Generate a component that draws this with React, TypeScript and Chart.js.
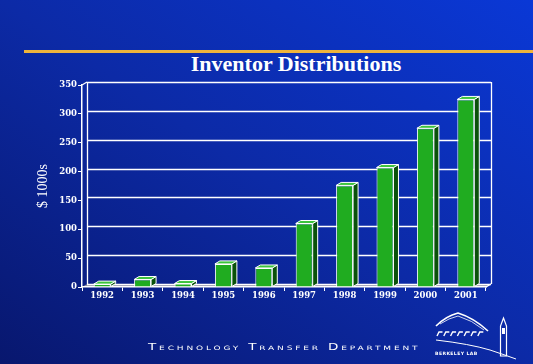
import React, { useEffect, useRef } from "react";
import { Chart, registerables } from "chart.js";

Chart.register(...registerables);

// ---- data ----
const years = ["1992", "1993", "1994", "1995", "1996", "1997", "1998", "1999", "2000", "2001"];
const distributions = [5, 13, 6, 40, 33, 110, 176, 207, 275, 325];
const yMin = 0;
const yMax = 350;
const yStep = 50;
const chartTitle = "Inventor Distributions";
const yAxisTitle = "$ 1000s";
const footerText = "Technology Transfer Department";
const logoText = "BERKELEY LAB";

// 3D depth offset of the back wall relative to the front plane
const DX = 5;
const DY = -3;

const depthPlugin = {
  id: "depth3d",
  beforeDraw(chart: any) {
    const { ctx, chartArea: a, scales } = chart;
    const y = scales.y;
    const y0 = y.getPixelForValue(0);
    ctx.save();
    // floor
    ctx.fillStyle = "#8f8fa3";
    ctx.beginPath();
    ctx.moveTo(a.left, y0);
    ctx.lineTo(a.right, y0);
    ctx.lineTo(a.right + DX, y0 + DY);
    ctx.lineTo(a.left + DX, y0 + DY);
    ctx.closePath();
    ctx.fill();
    // back grid lines
    ctx.strokeStyle = "#ffffff";
    ctx.lineWidth = 1.3;
    y.ticks.forEach((t: any) => {
      const py = Math.round(y.getPixelForValue(t.value) + DY) + 0.5;
      ctx.beginPath();
      ctx.moveTo(a.left + DX, py);
      ctx.lineTo(a.right + DX, py);
      ctx.stroke();
    });
    // back wall edges
    const top = y.getPixelForValue(yMax) + DY;
    ctx.beginPath();
    ctx.moveTo(a.left + DX + 0.5, top);
    ctx.lineTo(a.left + DX + 0.5, y0 + DY);
    ctx.moveTo(a.right + DX + 0.5, top);
    ctx.lineTo(a.right + DX + 0.5, y0 + DY);
    // connectors
    ctx.moveTo(a.left, y.getPixelForValue(yMax));
    ctx.lineTo(a.left + DX, top);
    ctx.moveTo(a.right, y0);
    ctx.lineTo(a.right + DX, y0 + DY);
    ctx.stroke();
    ctx.restore();
  },
  afterDatasetsDraw(chart: any) {
    const { ctx } = chart;
    const meta = chart.getDatasetMeta(0);
    ctx.save();
    ctx.lineWidth = 1;
    ctx.strokeStyle = "#ffffff";
    meta.data.forEach((bar: any) => {
      const { x, y, base, width } = bar.getProps(["x", "y", "base", "width"], true);
      const l = x - width / 2;
      const r = x + width / 2;
      // side face
      ctx.fillStyle = "#0a520a";
      ctx.beginPath();
      ctx.moveTo(r, y);
      ctx.lineTo(r + DX, y + DY);
      ctx.lineTo(r + DX, base + DY);
      ctx.lineTo(r, base);
      ctx.closePath();
      ctx.fill();
      ctx.stroke();
      // top face
      ctx.fillStyle = "#3cc43c";
      ctx.beginPath();
      ctx.moveTo(l, y);
      ctx.lineTo(r, y);
      ctx.lineTo(r + DX, y + DY);
      ctx.lineTo(l + DX, y + DY);
      ctx.closePath();
      ctx.fill();
      ctx.stroke();
    });
    ctx.restore();
  },
};

function Logo() {
  return (
    <svg
      width={100}
      height={64}
      viewBox="420 300 100 64"
      style={{ position: "absolute", left: 420, top: 300 }}
    >
      <path d="M436 326 Q446 316 458 313 Q474 318 488 331" stroke="#fff" strokeWidth={1.6} fill="none" />
      <path d="M440 324 Q449 318 458 316 Q472 320 484 330" stroke="#fff" strokeWidth={0.8} fill="none" />
      {[0, 1, 2, 3, 4, 5, 6].map((i) => (
        <path
          key={i}
          d={`M${437 + i * 6.8} 336 L${439 + i * 6.8} 332 L${442.5 + i * 6.8} 332`}
          stroke="#fff"
          strokeWidth={1.4}
          fill="none"
        />
      ))}
      <path d="M436 340 Q470 344 490 350 Q505 355 516 359" stroke="#fff" strokeWidth={1} fill="none" />
      <path d="M503.5 318 L506.5 326 L506.5 356 L500.5 356 L500.5 326 Z" fill="none" stroke="#fff" strokeWidth={1.2} />
      <rect x={502} y={328} width={3} height={6} fill="#fff" />
      <text x={435} y={355} fill="#fff" fontSize={4.6} fontWeight="bold" fontFamily="DejaVu Sans" letterSpacing={0.4}>
        {logoText}
      </text>
    </svg>
  );
}

export default function App() {
  const canvasRef = useRef<HTMLCanvasElement | null>(null);

  useEffect(() => {
    const canvas = canvasRef.current;
    if (!canvas) return;
    const tickFont = { family: "'DejaVu Serif', serif", size: 8.5, weight: "bold" as const };
    const chart = new Chart(canvas, {
      type: "bar",
      data: {
        labels: years,
        datasets: [
          {
            data: distributions,
            backgroundColor: "#20ac20",
            borderColor: "#ffffff",
            borderWidth: 1,
            barPercentage: 0.42,
            categoryPercentage: 1,
          },
        ],
      },
      options: {
        animation: false,
        responsive: false,
        devicePixelRatio: 1,
        layout: { padding: { left: 0, top: 85, right: 47, bottom: 0 } },
        plugins: {
          legend: { display: false },
          tooltip: { enabled: false },
          title: { display: false },
        },
        scales: {
          x: {
            offset: true,
            grid: {
              offset: true,
              drawOnChartArea: false,
              color: "#ffffff",
              tickColor: "#ffffff",
              tickLength: 4,
            },
            border: { display: true, color: "#ffffff", width: 1.5 },
            ticks: { color: "#ffffff", font: tickFont, padding: 0, maxRotation: 0 },
            afterFit: (scale: any) => {
              scale.height = 77;
            },
          },
          y: {
            min: yMin,
            max: yMax,
            ticks: { stepSize: yStep, color: "#ffffff", font: tickFont, padding: 1 },
            grid: {
              drawOnChartArea: false,
              color: "#ffffff",
              tickColor: "#ffffff",
              tickLength: 4,
            },
            border: { display: true, color: "#ffffff", width: 1.5 },
            title: {
              display: true,
              text: yAxisTitle,
              color: "#ffffff",
              font: { family: "'Liberation Serif', serif", size: 14 },
              padding: { top: 35, bottom: 0 },
            },
            afterFit: (scale: any) => {
              scale.width = 82;
            },
          },
        },
      },
      plugins: [depthPlugin],
    });
    return () => chart.destroy();
  }, []);

  return (
    <div
      style={{
        position: "fixed",
        left: 0,
        top: 0,
        width: 533,
        height: 364,
        overflow: "hidden",
        background: "linear-gradient(to top right, #08176e 0%, #0c2aa6 50%, #0a38d6 100%)",
      }}
    >
      <div style={{ position: "absolute", left: 24, top: 50, width: 509, height: 3, background: "#eeb43c" }} />
      <div
        style={{
          position: "absolute",
          left: 146,
          top: 52,
          width: 300,
          textAlign: "center",
          color: "#ffffff",
          fontFamily: "'Liberation Serif', serif",
          fontWeight: "bold",
          fontSize: 22,
          lineHeight: "24px",
          whiteSpace: "nowrap",
        }}
      >
        {chartTitle}
      </div>
      <canvas ref={canvasRef} width={533} height={364} style={{ position: "absolute", left: 0, top: 0 }} />
      <div
        style={{
          position: "absolute",
          left: 148,
          top: 342,
          color: "#ffffff",
          fontFamily: "'DejaVu Sans', sans-serif",
          fontVariant: "small-caps",
          fontSize: 9,
          letterSpacing: 1.9,
          lineHeight: "10px",
          whiteSpace: "nowrap",
          transform: "scaleX(1.5)",
          transformOrigin: "left center",
        }}
      >
        {footerText}
      </div>
      <Logo />
    </div>
  );
}
